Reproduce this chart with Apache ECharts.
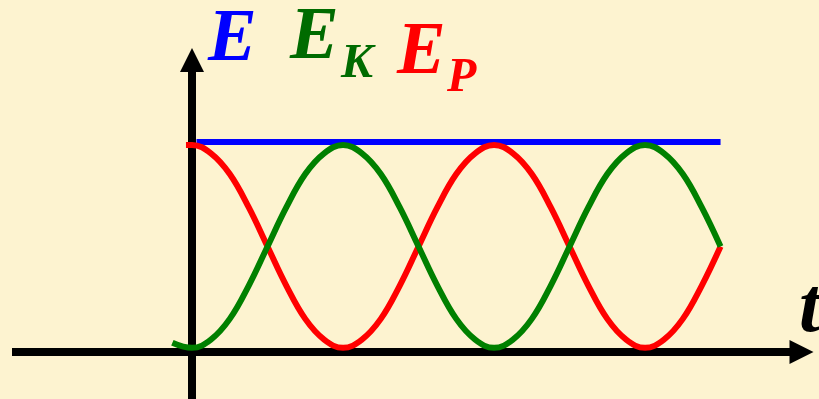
<!DOCTYPE html>
<html>
<head>
<meta charset="utf-8">
<script src="https://cdn.jsdelivr.net/npm/echarts@6/dist/echarts.min.js"></script>
<style>
  html, body { margin: 0; padding: 0; background: #FDF3D0; }
  #chart { width: 819px; height: 399px; }
</style>
</head>
<body>
<div id="chart"></div>
<script>
// time samples (in units of half an energy period)
const tSamples = [0, 0.125, 0.25, 0.375, 0.5, 0.625, 0.75, 0.875,
                  1, 1.125, 1.25, 1.375, 1.5, 1.625, 1.75, 1.875,
                  2, 2.125, 2.25, 2.375, 2.5, 2.625, 2.75, 2.875,
                  3, 3.125, 3.25, 3.375, 3.5];

// potential energy E_P
const epValues = [1, 0.96, 0.86, 0.7, 0.51, 0.32, 0.16, 0.06,
                  0.02, 0.06, 0.16, 0.32, 0.51, 0.7, 0.86, 0.96,
                  1, 0.96, 0.86, 0.7, 0.51, 0.32, 0.16, 0.06,
                  0.02, 0.06, 0.16, 0.32, 0.51];

// kinetic energy E_K
const ekValues = [0.02, 0.06, 0.16, 0.32, 0.51, 0.7, 0.86, 0.96,
                  1, 0.96, 0.86, 0.7, 0.51, 0.32, 0.16, 0.06,
                  0.02, 0.06, 0.16, 0.32, 0.51, 0.7, 0.86, 0.96,
                  1, 0.96, 0.86, 0.7, 0.51];

// short lead-in of each curve just before t = 0
const epLead = [[-0.04, 1]];
const ekLead = [[-0.13, 0.045]];

// total mechanical energy E
const eTotal = [[0.03, 1.015], [3.5, 1.015]];

const epData = epLead.concat(tSamples.map((t, i) => [t, epValues[i]]));
const ekData = ekLead.concat(tSamples.map((t, i) => [t, ekValues[i]]));

const chart = echarts.init(document.getElementById('chart'), null, { renderer: 'canvas' });

const axisBase = {
  type: 'value',
  axisLabel: { show: false },
  axisTick: { show: false },
  splitLine: { show: false },
  axisLine: {
    show: true,
    onZero: true,
    symbol: ['none', 'triangle'],
    symbolSize: [24, 24],
    lineStyle: { color: '#000', width: 8, cap: 'butt' }
  }
};

const titleFont = 'bold italic 73px "Liberation Serif", "DejaVu Serif", serif';
const subFont = 'bold italic 48px "Liberation Serif", "DejaVu Serif", serif';

chart.setOption({
  backgroundColor: '#FDF3D0',
  animation: false,
  grid: { left: 12, right: 17.5, top: 60, bottom: 0 },
  xAxis: Object.assign({}, axisBase, { min: -1.192, max: 4.036 }),
  yAxis: Object.assign({}, axisBase, { min: -0.227, max: 1.4106 }),
  series: [
    {
      name: 'E', type: 'line', data: eTotal, showSymbol: false,
      lineStyle: { color: '#0000FF', width: 6 }
    },
    {
      name: 'EP', type: 'line', data: epData, showSymbol: false, smooth: 0.4,
      lineStyle: { color: '#FF0000', width: 6 }
    },
    {
      name: 'EK', type: 'line', data: ekData, showSymbol: false, smooth: 0.4,
      lineStyle: { color: '#008000', width: 6 }
    }
  ],
  graphic: [
    { type: 'text', left: 208, top: 5,
      style: { text: 'E', font: titleFont, fill: '#0000FF' } },
    { type: 'text', left: 290, top: 3,
      style: { text: 'E', font: titleFont, fill: '#006B00' } },
    { type: 'text', left: 341, top: 41,
      style: { text: 'K', font: subFont, fill: '#006B00' } },
    { type: 'text', left: 397, top: 18,
      style: { text: 'E', font: titleFont, fill: '#FF0000' } },
    { type: 'text', left: 447, top: 55,
      style: { text: 'P', font: subFont, fill: '#FF0000' } },
    { type: 'text', left: 799, top: 272,
      style: { text: 't', font: 'bold italic 78px "Liberation Serif", "DejaVu Serif", serif', fill: '#000' } }
  ]
});
</script>
</body>
</html>
